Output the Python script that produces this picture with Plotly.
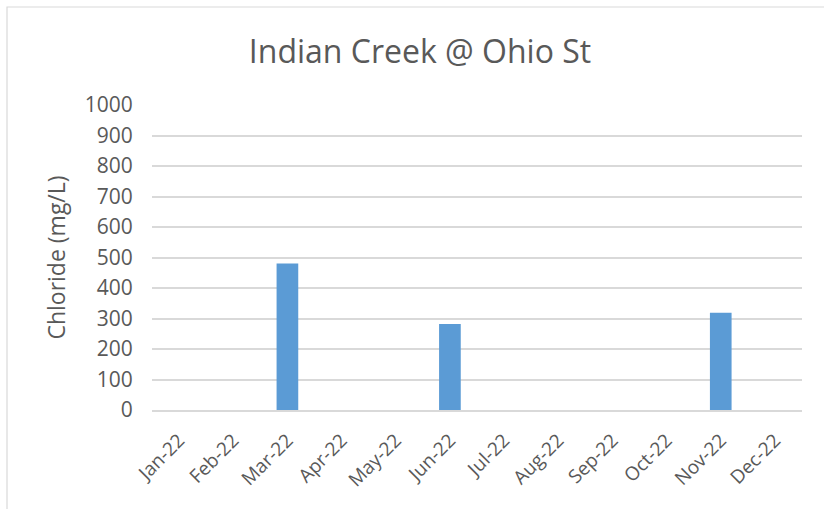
import plotly.graph_objects as go

months = ["Jan-22", "Feb-22", "Mar-22", "Apr-22", "May-22", "Jun-22",
          "Jul-22", "Aug-22", "Sep-22", "Oct-22", "Nov-22", "Dec-22"]
chloride = [None, None, 480, None, None, 282, None, None, None, None, 319, None]
y_ticks = [0, 100, 200, 300, 400, 500, 600, 700, 800, 900, 1000]

W, H = 824, 509
ml, mr, mt, mb = 152, 22, 105, 99
pw, ph = W - ml - mr, H - mt - mb

fig = go.Figure(go.Bar(x=months, y=chloride, marker=dict(color="#5b9bd5", line=dict(width=0)),
                       width=0.4))

def px2paper_x(px):
    return (px - ml) / pw

def px2paper_y(py):
    return (H - mb - py) / ph

fig.update_layout(
    width=W, height=H,
    margin=dict(l=ml, r=mr, t=mt, b=mb),
    paper_bgcolor="white", plot_bgcolor="white",
    font=dict(family="Open Sans", color="#595959"),
    title=dict(text="Indian Creek @ Ohio St", x=px2paper_x(420), xref="paper", xanchor="center",
               y=1 - 52 / H, yanchor="middle",
               font=dict(size=32, color="#595959", family="Open Sans")),
    showlegend=False,
    xaxis=dict(type="category", categoryorder="array", categoryarray=months,
               tickangle=-45, tickfont=dict(size=19, color="#595959"),
               showline=True, linecolor="#d9d9d9", linewidth=1.5,
               showgrid=False, ticks="outside", ticklen=10, tickcolor="rgba(0,0,0,0)",
               range=[-0.5, 11.5]),
    yaxis=dict(range=[0, 1000], tickvals=y_ticks, tickfont=dict(size=21, color="#595959"),
               showgrid=True, gridcolor="#d9d9d9", gridwidth=1.5, zeroline=False,
               showline=False, ticks="outside", ticklen=14, tickcolor="rgba(0,0,0,0)",
               title=dict(text="Chloride (mg/L)", font=dict(size=23, color="#595959"), standoff=12)),
    shapes=[dict(type="rect", xref="paper", yref="paper",
                 x0=px2paper_x(7), x1=px2paper_x(830), y0=px2paper_y(515), y1=px2paper_y(7),
                 line=dict(color="#d9d9d9", width=1.2), fillcolor="rgba(0,0,0,0)", layer="below")],
)

fig.write_html("out.html", config={"displayModeBar": False},
               post_script="document.body.style.margin='0';document.body.style.overflow='hidden';")
